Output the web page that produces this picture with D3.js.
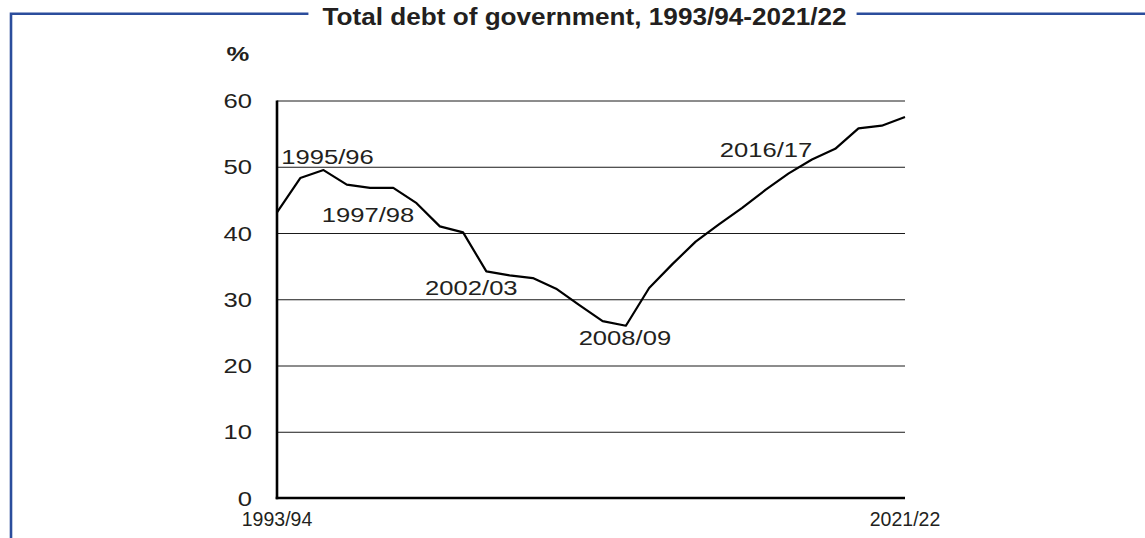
<!DOCTYPE html>
<html>
<head>
<meta charset="utf-8">
<script src="https://cdn.jsdelivr.net/npm/d3@7"></script>
<style>
  body { margin: 0; background: #fff; }
  text { font-family: "Liberation Sans", Arial, Helvetica, sans-serif; fill: #231f20; }
</style>
</head>
<body>
<div id="chart"></div>
<script>
// data
const chartTitle = "Total debt of government, 1993/94-2021/22";
const unitLabel = "%";
const years = ["1993/94", "1994/95", "1995/96", "1996/97", "1997/98", "1998/99", "1999/00",
  "2000/01", "2001/02", "2002/03", "2003/04", "2004/05", "2005/06", "2006/07", "2007/08",
  "2008/09", "2009/10", "2010/11", "2011/12", "2012/13", "2013/14", "2014/15", "2015/16",
  "2016/17", "2017/18", "2018/19", "2019/20", "2020/21"];
const debt = [43.1, 48.3, 49.5, 47.3, 46.8, 46.8, 44.5, 41.0, 40.1, 34.2, 33.6, 33.2, 31.6,
  29.1, 26.7, 26.0, 31.7, 35.3, 38.7, 41.3, 43.8, 46.5, 49.0, 51.1, 52.7, 55.8, 56.2, 57.5];
const yTicks = [0, 10, 20, 30, 40, 50, 60];
const xTickLabels = ["1993/94", "2021/22"];
const callouts = ["1995/96", "1997/98", "2002/03", "2008/09", "2016/17"];

const W = 1145, H = 538;
const margin = {top: 100.5, right: 240, bottom: 40, left: 277};
const width = W - margin.left - margin.right;
const height = H - margin.top - margin.bottom;
const stretch = 1.22;   // the reference type is drawn wide
const frameColor = "#2b4d9c";

const svg = d3.select("#chart").append("svg")
  .attr("width", W)
  .attr("height", H);

// title with frame line broken around it
const titleStretch = 1.09;
const titleText = svg.append("text")
  .attr("text-anchor", "middle")
  .attr("transform", `translate(584.5,24.5) scale(${titleStretch},1)`)
  .style("font-size", "24px")
  .style("font-weight", "bold")
  .text(chartTitle);
const half = titleText.node().getComputedTextLength() * titleStretch / 2;
svg.append("path")
  .attr("d", `M11,${H}V13.7H${584.5 - half - 14}`)
  .attr("fill", "none")
  .attr("stroke", frameColor)
  .attr("stroke-width", 2.6);
svg.append("path")
  .attr("d", `M${584.5 + half + 10},13.7H${W}`)
  .attr("fill", "none")
  .attr("stroke", frameColor)
  .attr("stroke-width", 2.6);

const g = svg.append("g")
  .attr("transform", `translate(${margin.left},${margin.top})`);

const x = d3.scalePoint()
  .domain(years)
  .range([0, width]);

const y = d3.scaleLinear()
  .domain([0, 60])
  .range([height, 0]);

// gridlines and y labels
const yAxis = g.append("g")
  .call(d3.axisLeft(y).tickValues(yTicks).tickSize(-width).tickSizeOuter(0));
yAxis.select(".domain").remove();
yAxis.selectAll(".tick line")
  .attr("stroke", "#1a1a1a")
  .attr("stroke-width", 1);
yAxis.selectAll(".tick text")
  .attr("x", -25 / stretch)
  .attr("dy", "0.34em")
  .attr("transform", `scale(${stretch},1)`)
  .style("font-size", "21px")
  .style("font-family", "'Liberation Sans', Arial, sans-serif")
  .attr("fill", "#231f20");

g.append("text")
  .attr("text-anchor", "middle")
  .attr("transform", `translate(-39,${-39.5}) scale(${stretch},1)`)
  .style("font-size", "21px")
  .style("font-weight", "bold")
  .text(unitLabel);

// axes lines
g.append("line")
  .attr("x1", 0).attr("x2", 0)
  .attr("y1", y(60)).attr("y2", y(0) + 1.2)
  .attr("stroke", "#000")
  .attr("stroke-width", 2.6);
g.append("line")
  .attr("x1", -1.3).attr("x2", width)
  .attr("y1", y(0)).attr("y2", y(0))
  .attr("stroke", "#000")
  .attr("stroke-width", 2.6);

// x end labels
g.selectAll(".xlab")
  .data(xTickLabels)
  .join("text")
  .attr("class", "xlab")
  .attr("text-anchor", "middle")
  .attr("transform", (d, i) => `translate(${x.range()[i]},${height + 27.5})`)
  .style("font-size", "19.5px")
  .text(d => d);

// debt line
const line = d3.line()
  .x((d, i) => x(years[i]))
  .y(d => y(d));

g.append("path")
  .datum(debt)
  .attr("fill", "none")
  .attr("stroke", "#000")
  .attr("stroke-width", 2.2)
  .attr("stroke-linejoin", "round")
  .attr("d", line);

// year callouts
const calloutOffset = {
  "1995/96": [4, -6],
  "1997/98": [-2, 34],
  "2002/03": [-15, 24],
  "2008/09": [-1, 19],
  "2016/17": [-46, -2]
};
g.selectAll(".callout")
  .data(callouts)
  .join("text")
  .attr("class", "callout")
  .attr("text-anchor", "middle")
  .attr("transform", d => {
    const i = years.indexOf(d);
    const [dx, dy] = calloutOffset[d];
    return `translate(${x(d) + dx},${y(debt[i]) + dy}) scale(${stretch},1)`;
  })
  .style("font-size", "21px")
  .text(d => d);
</script>
</body>
</html>
